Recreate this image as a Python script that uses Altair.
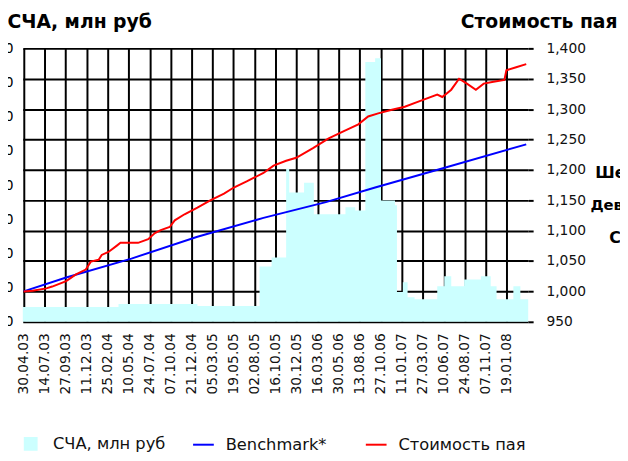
import altair as alt
import pandas as pd

# ---------------- data ----------------
TICK_DATES = ["2003-04-30", "2003-07-14", "2003-09-27", "2003-12-11", "2004-02-25",
              "2004-05-10", "2004-07-24", "2004-10-07", "2004-12-21", "2005-03-05",
              "2005-05-19", "2005-08-02", "2005-10-16", "2005-12-30", "2006-03-16",
              "2006-05-30", "2006-08-13", "2006-10-27", "2007-01-11", "2007-03-27",
              "2007-06-10", "2007-08-24", "2007-11-07", "2008-01-19"]

NAV_DATES = ["2003-04-27", "2004-04-03", "2005-01-10", "2005-08-20", "2005-10-02",
             "2005-11-23", "2005-12-04", "2006-01-26", "2006-03-02", "2006-06-23",
             "2006-07-28", "2006-09-02", "2006-10-07", "2006-10-28", "2006-12-17",
             "2006-12-24", "2007-01-14", "2007-01-31", "2007-02-25", "2007-05-17",
             "2007-06-11", "2007-07-06", "2007-08-21", "2007-10-20", "2007-11-24",
             "2007-12-15", "2008-02-13", "2008-03-09", "2008-04-06"]
NAV_VALUES = [43, 52, 46, 162, 188, 448, 378, 407, 315, 335,
              326, 760, 771, 355, 341, 87, 116, 72, 66, 104,
              133, 104, 124, 133, 104, 66, 104, 66, 66]

PRICE_DATES = ["2003-04-30", "2003-06-01", "2003-07-20", "2003-08-10", "2003-09-29",
               "2003-11-03", "2003-12-08", "2003-12-26", "2004-01-23", "2004-02-03",
               "2004-02-27", "2004-03-27", "2004-04-10", "2004-06-12", "2004-07-18",
               "2004-08-11", "2004-09-01", "2004-10-03", "2004-10-21", "2004-11-25",
               "2005-01-10", "2005-02-25", "2005-04-15", "2005-05-20", "2005-07-05",
               "2005-09-03", "2005-10-09", "2005-11-23", "2005-12-29", "2006-02-27",
               "2006-04-24", "2006-06-23", "2006-08-08", "2006-09-12", "2006-10-18",
               "2006-12-06", "2007-01-21", "2007-03-08", "2007-05-17", "2007-06-04",
               "2007-07-06", "2007-08-03", "2007-08-31", "2007-10-02", "2007-10-30",
               "2007-12-04", "2008-01-12", "2008-01-19", "2008-02-23", "2008-03-30"]
PRICE_VALUES = [1000, 1001, 1005, 1008, 1017, 1028, 1036, 1049, 1052, 1060,
                1065, 1075, 1080, 1080, 1086, 1096, 1101, 1106, 1117, 1127,
                1138, 1150, 1161, 1171, 1181, 1195, 1207, 1215, 1220, 1236,
                1252, 1265, 1275, 1288, 1293, 1299, 1304, 1312, 1324, 1320,
                1332, 1350, 1342, 1332, 1342, 1345, 1348, 1364, 1369, 1374]

BENCH_DATES = ["2003-04-30", "2003-09-29", "2004-05-19", "2005-01-10", "2005-09-03",
               "2006-04-14", "2006-10-07", "2007-05-31", "2008-03-30"]
BENCH_VALUES = [1000, 1023, 1054, 1090, 1121, 1147, 1171, 1202, 1242]

SERIES = ["СЧА, млн руб", "Benchmark*", "Стоимость пая"]
COLORS = ["#ccffff", "#0000ff", "#ff0000"]
SIDE_TEXT = ["Ше", "Дев", "С"]

# ---------------- build tables ----------------
def ms(d):
    return int(pd.Timestamp(d, tz="UTC").value // 10**6)

nav_df = pd.DataFrame({"date": NAV_DATES, "value": NAV_VALUES, "series": SERIES[0]})
line_df = pd.concat([
    pd.DataFrame({"date": BENCH_DATES, "value": BENCH_VALUES, "series": SERIES[1]}),
    pd.DataFrame({"date": PRICE_DATES, "value": PRICE_VALUES, "series": SERIES[2]}),
], ignore_index=True)

tick_ms = [ms(d) for d in TICK_DATES]
x_scale = alt.Scale(type="utc", domain=[ms("2003-04-27"), ms("2008-04-06")])
x_axis = alt.Axis(values=tick_ms, labelExpr="utcFormat(datum.value, '%d.%m.%y')",
                  labelAngle=-90, grid=True, gridColor="#000000", gridWidth=2,
                  ticks=False, domain=False, labelPadding=11, title=None,
                  labelFont="DejaVu Sans", labelFontSize=14, labelColor="#111111")

color_scale = alt.Scale(domain=SERIES, range=COLORS)
is_nav = "datum.value === 'СЧА, млн руб'"
legend = alt.Legend(orient="none", legendX=-3.5, legendY=389, direction="horizontal",
                    columns=3, gridAlign="all", columnPadding=9, title=None,
                    labelFont="DejaVu Sans", labelFontSize=16.5, labelColor="#111111",
                    labelOffset=11, labelLimit=300,
                    symbolType={"expr": is_nav + " ? 'square' : 'stroke'"},
                    symbolSize={"expr": is_nav + " ? 144 : 441"},
                    symbolStrokeWidth=2)

title_font = dict(titleFont="DejaVu Sans", titleFontWeight="bold", titleFontSize=19,
                  titleColor="#000000", titleAngle=0, titleBaseline="alphabetic")

area = alt.Chart(nav_df).mark_area(interpolate="step-after", opacity=1).encode(
    x=alt.X("date:T", scale=x_scale, axis=x_axis),
    y=alt.Y("value:Q", scale=alt.Scale(domain=[0, 800], nice=False),
            axis=alt.Axis(orient="left", values=list(range(0, 801, 100)), grid=False,
                          domain=False, ticks=False, labelPadding=10,
                          labelFont="DejaVu Sans", labelFontSize=14,
                          title="СЧА, млн руб", titleX=-16, titleY=-21,
                          titleAlign="left", **title_font)),
    color=alt.Color("series:N", scale=color_scale, legend=legend),
)

lines = alt.Chart(line_df).mark_line(strokeWidth=2).encode(
    x=alt.X("date:T", scale=x_scale, axis=x_axis),
    y=alt.Y("value:Q", scale=alt.Scale(domain=[950, 1400], nice=False),
            axis=alt.Axis(orient="right", values=list(range(950, 1401, 50)), format=",d",
                          grid=True, gridColor="#000000", gridWidth=2, domain=False,
                          tickSize=5, tickColor="#000000", tickWidth=2, labelPadding=13,
                          labelFont="DejaVu Sans", labelFontSize=14, labelColor="#111111",
                          title="Стоимость пая", titleX=90, titleY=-21,
                          titleAlign="right", **title_font)),
    color=alt.Color("series:N", scale=color_scale, legend=legend),
    detail="series:N",
)

side_df = pd.DataFrame({"t": SIDE_TEXT, "px": [580, 575, 594], "py": [126, 159, 192],
                        "fs": [16, 15, 16]})
side = alt.Chart(side_df).mark_text(font="DejaVu Sans", fontWeight="bold",
                                    align="left", baseline="middle", color="#000000").encode(
    text="t:N", x=alt.X("px:Q", scale=None), y=alt.Y("py:Q", scale=None),
    size=alt.Size("fs:Q", scale=None, legend=None))

chart = alt.layer(area, lines, side).resolve_scale(y="independent").properties(
    width=512, height=277,
    autosize=alt.AutoSizeParams(type="none"),
    padding={"left": 15, "top": 38, "right": 93, "bottom": 130},
).configure_view(stroke=None)

chart.save("out.html", embed_options={"renderer": "svg", "actions": False})
